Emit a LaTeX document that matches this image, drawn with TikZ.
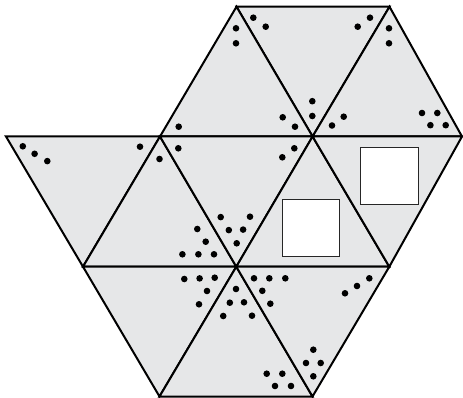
\documentclass[tikz,border=0pt]{standalone}
\definecolor{tilegray}{RGB}{230,231,232}
\begin{document}
\begin{tikzpicture}[x=1pt,y=-1pt,
  tile/.style={fill=tilegray,draw=black,line width=2pt},
  hole/.style={fill=white,draw=black!85,line width=0.9pt},
  pip/.style={fill=black,draw=none}]
\useasboundingbox (0,0) rectangle (463,398);
\coordinate (A0) at (236.5,6.7);
\coordinate (A1) at (389.5,6.7);
\coordinate (B0) at (6,136.5);
\coordinate (B1) at (160,136.5);
\coordinate (B2) at (312.6,136.5);
\coordinate (B3) at (462,136.5);
\coordinate (C0) at (83,266.7);
\coordinate (C1) at (236.3,266.7);
\coordinate (C2) at (389.3,266.7);
\coordinate (D0) at (159.5,396.5);
\coordinate (D1) at (312.5,396.5);
% tiles
\filldraw[tile] (A0) -- (A1) -- (B2) -- cycle;
\filldraw[tile] (B1) -- (A0) -- (B2) -- cycle;
\filldraw[tile] (B2) -- (A1) -- (B3) -- cycle;
\filldraw[tile] (B0) -- (B1) -- (C0) -- cycle;
\filldraw[tile] (C0) -- (B1) -- (C1) -- cycle;
\filldraw[tile] (B1) -- (B2) -- (C1) -- cycle;
\filldraw[tile] (C1) -- (B2) -- (C2) -- cycle;
\filldraw[tile] (B2) -- (B3) -- (C2) -- cycle;
\filldraw[tile] (C0) -- (C1) -- (D0) -- cycle;
\filldraw[tile] (D0) -- (C1) -- (D1) -- cycle;
\filldraw[tile] (C1) -- (C2) -- (D1) -- cycle;
% white squares
\filldraw[hole] (282,199) rectangle (339.3,256);
\filldraw[hole] (360.7,147.7) rectangle (418.3,204);
% pips
\foreach \p in {
  (253.3,17.7),(265.7,26.7),(357.7,26.7),(370,17.7),(312.3,101.2),(312.3,116),
  (236,28.3),(236,43.3),(178.7,126.7),(282.7,117.3),(295,126.7),
  (389,28.3),(389,43.3),(332,125.5),(343.7,116.7),(422,113),(437.3,113),(430.4,125.2),(445.7,125.2),
  (22.8,146.3),(34.6,153.8),(47.3,161.1),(140,146.7),
  (159.5,159),(197.3,229),(205.7,241.7),(182.4,254.3),(198.4,254.3),(214,254.3),
  (178.3,148.3),(294.3,148.3),(282.3,157.3),(220.7,217.1),(250,216.7),(228.8,230.1),(243.1,229.6),(236.7,243.3),
  (184.3,279),(199.6,278.4),(214.7,277.7),(207,291),(199,304.3),
  (236,289),(229.8,302.7),(244,302.3),(223.2,316),(252,315.7),
  (266.7,373.7),(282.3,373.7),(275,386),(291,386),
  (254,278.3),(269.3,278.3),(285.3,278.3),(262.3,290.8),(270.3,303.7),
  (345,293.3),(357,286),(369.3,278.3),
  (313.3,349.7),(306,363),(320.7,363),(313.3,376.3)}
  \fill[pip] \p circle (3.3);
\end{tikzpicture}
\end{document}
